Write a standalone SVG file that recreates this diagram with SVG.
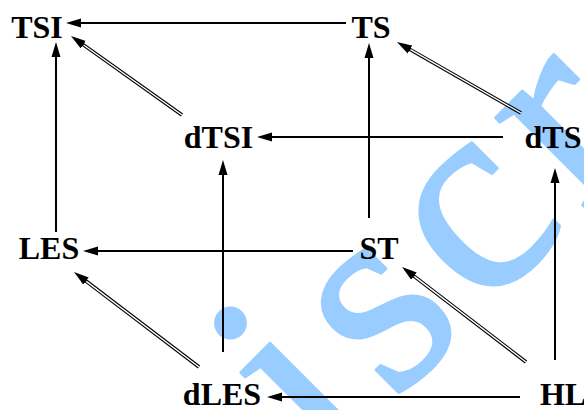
<svg xmlns="http://www.w3.org/2000/svg" width="584" height="410" viewBox="0 0 584 410">
<style>
.lbl{font-family:"Liberation Serif","Times New Roman",serif;font-weight:bold;font-size:32px;fill:#000;text-anchor:middle}
.wm{font-family:"Liberation Serif","Times New Roman",serif;font-size:282px;letter-spacing:17px;fill:#99ccff;stroke:#99ccff;stroke-width:3;stroke-linejoin:round}
.a{stroke:#000;stroke-width:2;fill:none;marker-end:url(#ah)}
.d{stroke:#000;stroke-width:3.6;fill:none;marker-end:url(#ah)}
.w{stroke:#fff;stroke-width:1.4;fill:none}
</style>
<defs>
<marker id="ah" markerUnits="userSpaceOnUse" markerWidth="16" markerHeight="10" viewBox="0 -5 16 10" refX="7" refY="0" orient="auto">
<path d="M0,-4.5 L15,0 L0,4.5 z" fill="#000"/>
</marker>
</defs>
<rect width="584" height="410" fill="#fff"/>
<text class="wm" transform="translate(325.6,470.8) rotate(-45)">iscr</text>
<g id="connectors">
<line class="a" x1="346" y1="23" x2="74" y2="23"/>
<line class="a" x1="503" y1="137" x2="265" y2="137"/>
<line class="a" x1="353" y1="251" x2="91" y2="251"/>
<line class="a" x1="520" y1="397" x2="275" y2="397"/>
<line class="a" x1="56" y1="232" x2="56" y2="50"/>
<line class="a" x1="369" y1="218" x2="369" y2="51"/>
<line class="a" x1="223" y1="352" x2="223" y2="168"/>
<line class="a" x1="555" y1="360" x2="555" y2="176"/>
<g id="dbl1"><line class="d" x1="182" y1="115" x2="77.5" y2="40.6"/><line class="w" x1="182" y1="115" x2="83.6" y2="45"/></g>
<g id="dbl2"><line class="d" x1="521" y1="113" x2="403.9" y2="46"/><line class="w" x1="521" y1="113" x2="410.5" y2="49.7"/></g>
<g id="dbl3"><line class="d" x1="199" y1="367" x2="80.4" y2="276.8"/><line class="w" x1="199" y1="367" x2="86.3" y2="281.4"/></g>
<g id="dbl4"><line class="d" x1="526" y1="362" x2="408.4" y2="271.9"/><line class="w" x1="526" y1="362" x2="414.3" y2="276.4"/></g>
</g>
<g id="TSI"><text class="lbl" x="37" y="38">TSI</text></g>
<g id="TS"><text class="lbl" x="371" y="38">TS</text></g>
<g id="dTSI"><text class="lbl" x="218.5" y="148">dTSI</text></g>
<g id="dTS"><text class="lbl" x="553" y="148">dTS</text></g>
<g id="LES"><text class="lbl" x="49" y="259">LES</text></g>
<g id="ST"><text class="lbl" x="379" y="259">ST</text></g>
<g id="dLES"><text class="lbl" x="222" y="405">dLES</text></g>
<g id="HL"><text class="lbl" x="563" y="405">HL</text></g>
</svg>
